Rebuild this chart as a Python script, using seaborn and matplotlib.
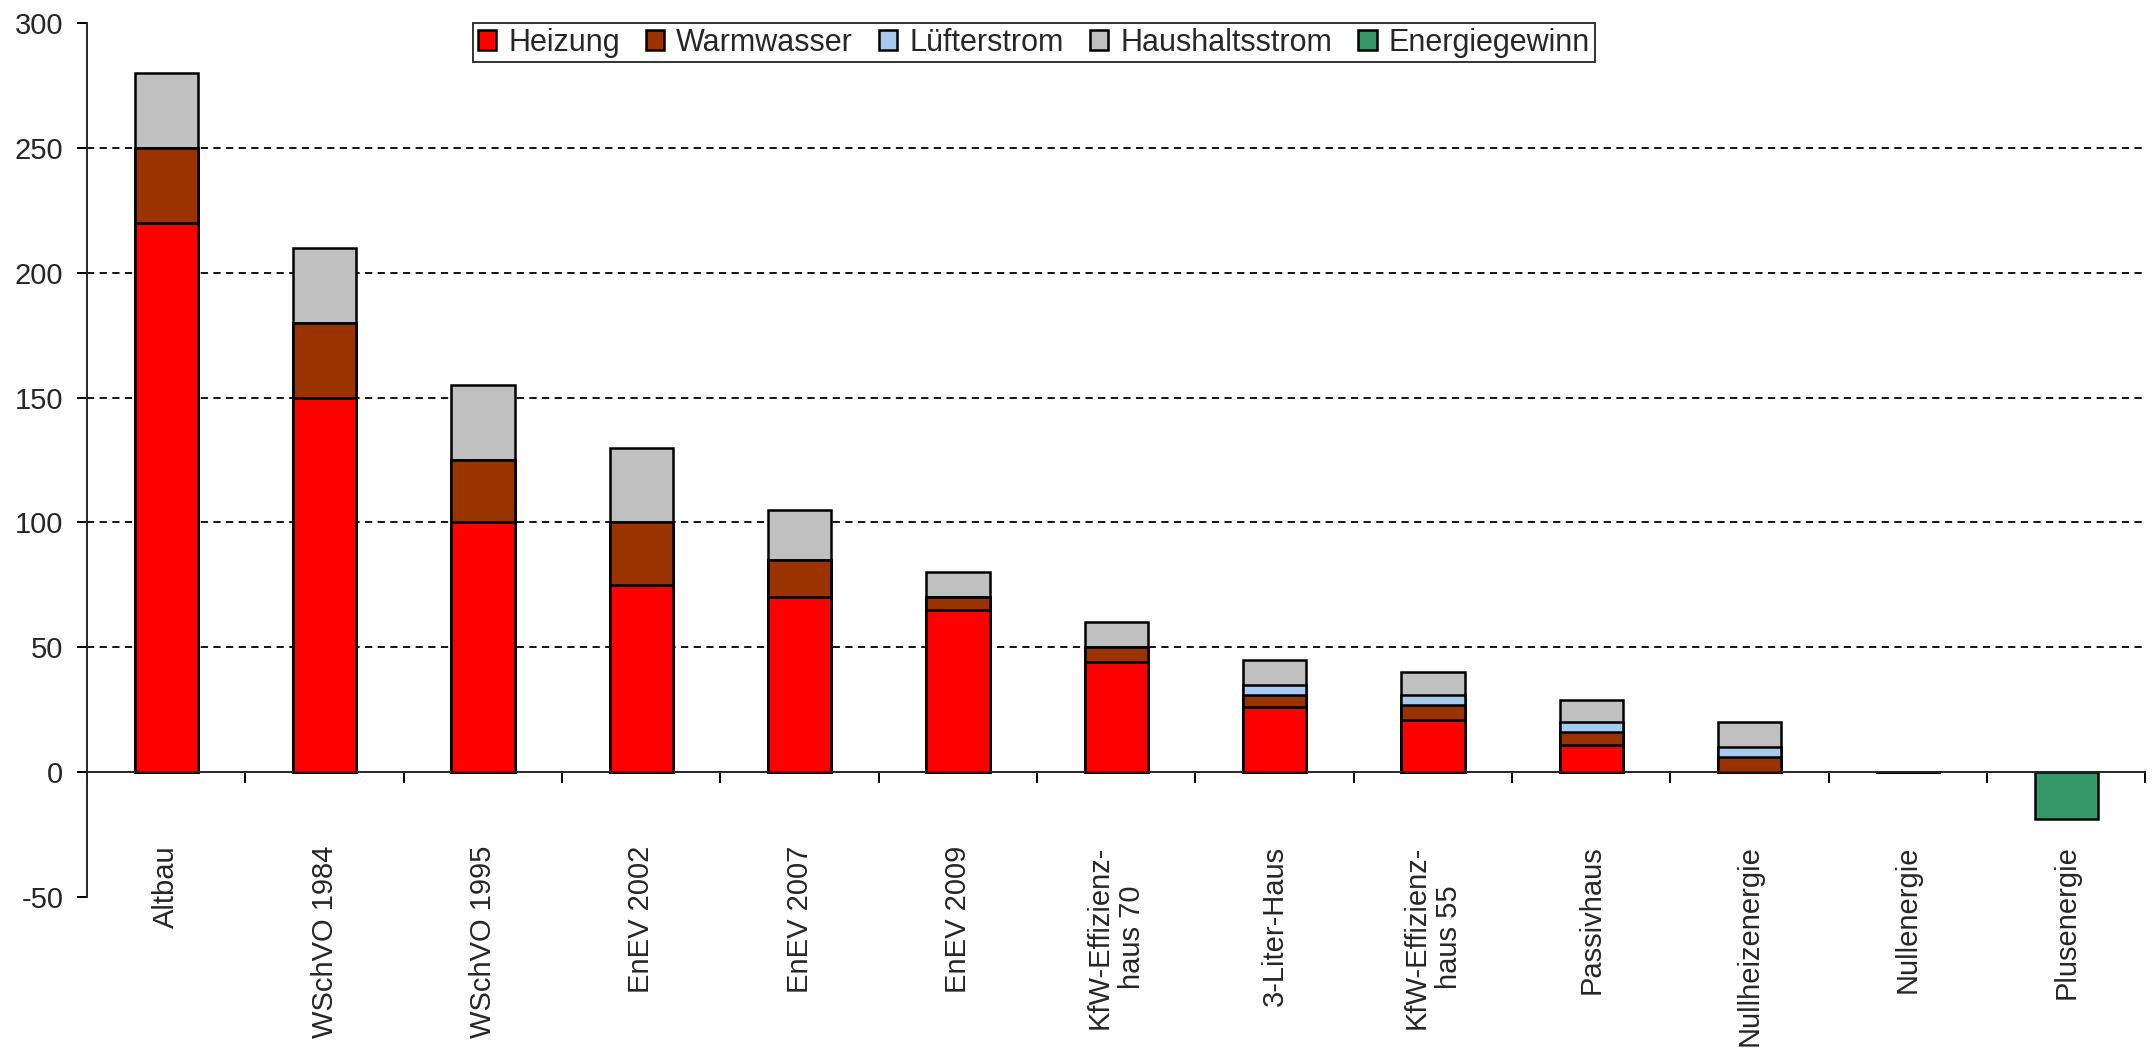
import matplotlib

matplotlib.use("Agg")
import matplotlib.pyplot as plt
import numpy as np
import pandas as pd
import seaborn as sns


categories = [
    "Altbau",
    "WSchVO 1984",
    "WSchVO 1995",
    "EnEV 2002",
    "EnEV 2007",
    "EnEV 2009",
    "KfW-Effizienz-\nhaus 70",
    "3-Liter-Haus",
    "KfW-Effizienz-\nhaus 55",
    "Passivhaus",
    "Nullheizenergie",
    "Nullenergie",
    "Plusenergie",
]
heizung = [220, 150, 100, 75, 70, 65, 44, 26, 21, 11, 0, 0, 0]
warmwasser = [30, 30, 25, 25, 15, 5, 6, 5, 6, 5, 6, 0, 0]
luefterstrom = [0, 0, 0, 0, 0, 0, 0, 4, 4, 4, 4, 0, 0]
haushaltsstrom = [30, 30, 30, 30, 20, 10, 10, 10, 9, 9, 10, 0, 0]
energiegewinn = [0, 0, 0, 0, 0, 0, 0, 0, 0, 0, 0, 0, -19]

y_ticks = [-50, 0, 50, 100, 150, 200, 250, 300]

SERIES_COLORS = {
    "Heizung": "#FF0000",
    "Warmwasser": "#993300",
    "Lüfterstrom": "#A6CAF0",
    "Haushaltsstrom": "#C0C0C0",
    "Energiegewinn": "#339966",
}
LEGEND_ORDER = ["Heizung", "Warmwasser", "Lüfterstrom", "Haushaltsstrom", "Energiegewinn"]


def main() -> None:
    sns.set_style("white")
    plt.rcParams["font.family"] = ["Liberation Sans", "DejaVu Sans"]
    plt.rcParams["axes.unicode_minus"] = False

    df = pd.DataFrame(
        {
            "category": categories,
            "Heizung": heizung,
            "Warmwasser": warmwasser,
            "Lüfterstrom": luefterstrom,
            "Haushaltsstrom": haushaltsstrom,
            "Energiegewinn": energiegewinn,
        }
    )
    # stacked bars: draw cumulative tops, tallest first
    df["top_Heizung"] = df["Heizung"]
    df["top_Warmwasser"] = df["top_Heizung"] + df["Warmwasser"]
    df["top_Lüfterstrom"] = df["top_Warmwasser"] + df["Lüfterstrom"]
    df["top_Haushaltsstrom"] = df["top_Lüfterstrom"] + df["Haushaltsstrom"]
    df["top_Energiegewinn"] = df["Energiegewinn"]

    fig, ax = plt.subplots(figsize=(21.54, 10.6), dpi=100)
    fig.subplots_adjust(left=0.0404, right=0.996, top=0.978, bottom=0.154)

    for name in ["Haushaltsstrom", "Lüfterstrom", "Warmwasser", "Heizung", "Energiegewinn"]:
        sns.barplot(
            data=df,
            x="category",
            y=f"top_{name}",
            order=categories,
            color=SERIES_COLORS[name],
            saturation=1,
            width=0.4,
            edgecolor="black",
            linewidth=1.8,
            errorbar=None,
            label=name,
            ax=ax,
            zorder=3,
        )

    ax.set_xlim(-0.5, len(categories) - 0.5)
    ax.set_ylim(-50, 300)
    ax.set_yticks(y_ticks)
    ax.set_xlabel("")
    ax.set_ylabel("")

    # spines: bottom axis line sits on zero
    for side in ["top", "right"]:
        ax.spines[side].set_visible(False)
    ax.spines["bottom"].set_position(("data", 0))
    ax.spines["bottom"].set_linewidth(1.4)
    ax.spines["left"].set_linewidth(1.4)
    ax.spines["bottom"].set_zorder(4)

    ax.set_xticks(np.arange(len(categories)))
    ax.set_xticklabels(categories, rotation=90, multialignment="center")
    ax.set_xticks(np.arange(-0.5, len(categories)), minor=True)
    ax.tick_params(axis="x", which="major", length=0, pad=53, labelsize=21)
    ax.tick_params(axis="x", which="minor", length=8, width=1.4, direction="out", color="black")
    ax.tick_params(axis="y", length=7, width=1.4, direction="out", color="black", labelsize=21, pad=10)
    ax.tick_params(bottom=True, left=True, which="both")

    ax.yaxis.grid(True, linestyle=(0, (4, 3)), color="black", linewidth=1.3)
    ax.xaxis.grid(False)
    ax.set_axisbelow(True)
    for val, gl in zip(ax.get_yticks(), ax.get_ygridlines()):
        if val in (-50, 0, 300):
            gl.set_visible(False)

    handles, labels = ax.get_legend_handles_labels()
    lookup = dict(zip(labels, handles))
    leg = ax.legend(
        [lookup[n] for n in LEGEND_ORDER],
        LEGEND_ORDER,
        loc="upper center",
        bbox_to_anchor=(0.46, 1.0),
        ncol=5,
        fontsize=22,
        frameon=True,
        fancybox=False,
        edgecolor="black",
        handlelength=0.6,
        handleheight=0.6,
        handletextpad=0.4,
        columnspacing=0.85,
        borderpad=0.15,
        borderaxespad=0,
    )
    leg.get_frame().set_linewidth(1.4)

    fig.patch.set_facecolor("white")
    fig.savefig("out.png", dpi=100)
    plt.close(fig)


if __name__ == "__main__":
    main()
